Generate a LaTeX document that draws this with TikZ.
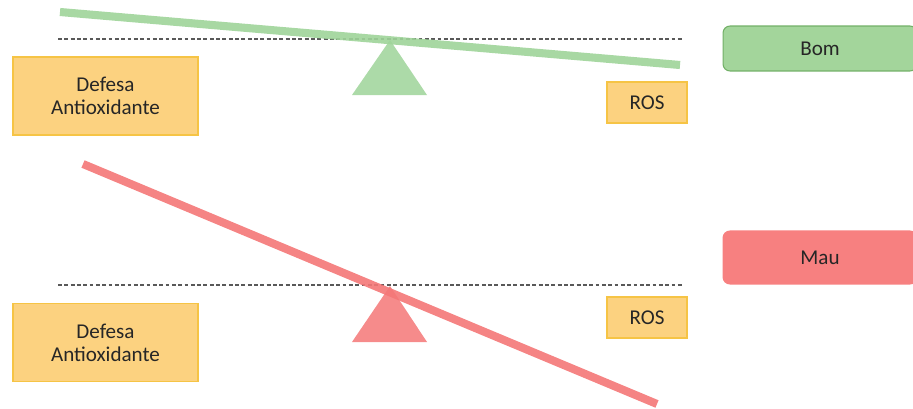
\documentclass[tikz,border=0pt]{standalone}
\usepackage{fontspec}
\setsansfont{Carlito}
\usetikzlibrary{positioning,calc}

\definecolor{rosfill}{HTML}{FCD280}
\definecolor{rosedge}{HTML}{F6C445}
\definecolor{okfill}{HTML}{A3D59B}
\definecolor{okedge}{HTML}{72B067}
\definecolor{badfill}{HTML}{F78080}
\definecolor{beamgreen}{HTML}{9ED499}
\definecolor{beamred}{HTML}{F47777}

\begin{document}
\begin{tikzpicture}[
    x=0.02cm, y=-0.02cm,
    font=\sffamily\fontsize{12}{13}\selectfont,
    defbox/.style={draw=rosedge, fill=rosfill, line width=0.7pt, minimum width=3.7cm, minimum height=1.56cm, align=center, text=black!85},
    rosbox/.style={draw=rosedge, fill=rosfill, line width=0.7pt, minimum width=1.6cm, minimum height=0.82cm, text=black!85},
    statebox/.style={rounded corners=4pt, line width=0.6pt, minimum width=3.88cm, text=black!85},
    level/.style={draw=gray!70!black, dashed, dash pattern=on 2.2pt off 1.4pt, line width=0.6pt},
    beam/.style={line width=4.6pt, opacity=0.9},
    pivot/.style={draw=none, opacity=0.85}
]
    \useasboundingbox (0,0) rectangle (913,409);
    \clip (0,0) rectangle (913,409);

    % Equilibrio (em cima)
    \coordinate (topl) at (58,39);
    \coordinate (topr) at (682,39);
    \coordinate (topa) at (390,40);
    \draw[level] (topl) -- (topr);
    \fill[pivot, fill=beamgreen] (topa) -- (427,95) -- (352,95) -- cycle;
    \coordinate (gbeama) at (60,12);
    \coordinate (gbeamb) at (680,65);
    \draw[beam, draw=beamgreen] (gbeama) -- (gbeamb);

    \node[defbox] (def_top) at (105.5,96) {Defesa\\Antioxidante};
    \node[rosbox] (ros_top) at (647,102.5) {ROS};
    \node[statebox, draw=okedge, fill=okfill, minimum height=0.9cm] (bom) at (820,48.5) {Bom};

    % Desequilibrio (em baixo)
    \coordinate (botl) at (58,285);
    \coordinate (botr) at (682,285);
    \coordinate (bota) at (390,286);
    \draw[level] (botl) -- (botr);
    \fill[pivot, fill=beamred] (bota) -- (427,342) -- (352,342) -- cycle;
    \coordinate (rbeama) at (83,164);
    \coordinate (rbeamb) at (657,404);
    \draw[beam, draw=beamred] (rbeama) -- (rbeamb);

    \node[defbox] (def_bot) at (105.5,342.5) {Defesa\\Antioxidante};
    \node[rosbox] (ros_bot) at (647,317.5) {ROS};
    \node[statebox, draw=badfill, fill=badfill, minimum height=1.06cm] (mau) at (820,257.5) {Mau};

\end{tikzpicture}
\end{document}
